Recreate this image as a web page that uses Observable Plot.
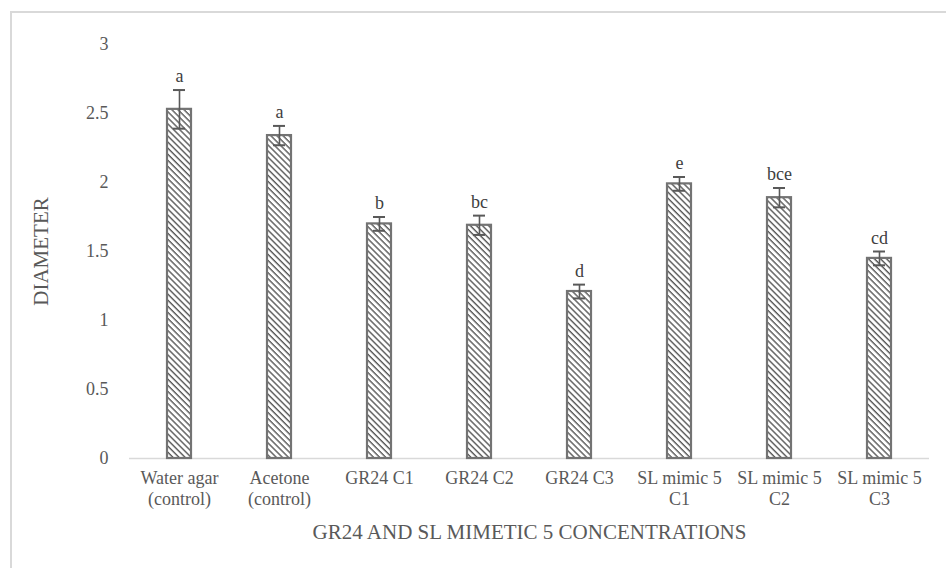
<!DOCTYPE html>
<html>
<head>
<meta charset="utf-8">
<script src="https://cdn.jsdelivr.net/npm/d3@7"></script>
<script src="https://cdn.jsdelivr.net/npm/@observablehq/plot@0.6"></script>
<style>
  html, body { margin: 0; padding: 0; background: #fff; overflow: hidden; }
  #wrap { position: relative; width: 946px; height: 568px; }
  #frame { position: absolute; left: 10px; top: 11px; width: 1000px; height: 1000px; border: 2px solid #d9d9d9; box-sizing: border-box; pointer-events: none; }
  #chart { position: absolute; left: 0; top: 0; }
  #chart svg, #chart svg text { font-family: 'Liberation Serif', 'Times New Roman', serif !important; }
</style>
</head>
<body>
<div id="wrap">
  <div id="frame"></div>
  <div id="chart"></div>
</div>
<script>
const categories = [
  "Water agar\n(control)", "Acetone\n(control)", "GR24 C1", "GR24 C2",
  "GR24 C3", "SL mimic 5\nC1", "SL mimic 5\nC2", "SL mimic 5\nC3"
];
const values = [2.53, 2.34, 1.70, 1.69, 1.21, 1.99, 1.89, 1.45];
const errors = [0.14, 0.07, 0.05, 0.07, 0.05, 0.05, 0.07, 0.05];
const letters = ["a", "a", "b", "bc", "d", "e", "bce", "cd"];
const yTicks = [0, 0.5, 1, 1.5, 2, 2.5, 3];
const xTitle = "GR24 AND SL MIMETIC 5 CONCENTRATIONS";
const yTitle = "DIAMETER";

const data = categories.map((c, i) => ({
  cat: c, v: values[i], lo: values[i] - errors[i], hi: values[i] + errors[i], letter: letters[i]
}));

const font = "'Liberation Serif', 'Times New Roman', serif";
const txt = "#595959";

const plot = Plot.plot({
  width: 946,
  height: 568,
  marginLeft: 129,
  marginRight: 17,
  marginTop: 44,
  marginBottom: 110,
  style: { fontFamily: font, background: "transparent", color: txt },
  x: { domain: categories, padding: 0, label: null },
  y: { domain: [0, 3], label: null },
  marks: [
    Plot.ruleY([0], { stroke: "#d9d9d9", strokeWidth: 1.5 }),
    Plot.barY(data, {
      x: "cat", y: "v", insetLeft: 38, insetRight: 38,
      fill: "url(#hatch)", stroke: "#737373", strokeWidth: 2.2
    }),
    Plot.ruleX(data, { x: "cat", y1: "lo", y2: "hi", stroke: "#595959", strokeWidth: 1.6 }),
    Plot.tickY(data, { x: "cat", y: "hi", insetLeft: 44, insetRight: 44, stroke: "#595959", strokeWidth: 2 }),
    Plot.tickY(data, { x: "cat", y: "lo", insetLeft: 44, insetRight: 44, stroke: "#595959", strokeWidth: 2 }),
    Plot.text(data, {
      x: "cat", y: "hi", text: "letter", lineAnchor: "bottom", dy: -8,
      fontSize: 18, fill: "#404040", fontFamily: font
    }),
    Plot.axisY({
      ticks: yTicks, tickSize: 0, tickPadding: 21, label: null,
      fontSize: 18, fill: txt, fontFamily: font, tickFormat: d => String(d)
    }),
    Plot.axisX({
      tickSize: 0, tickPadding: 10, label: null, lineHeight: 1.2,
      fontSize: 18, fill: txt, fontFamily: font
    }),
    Plot.text([xTitle], {
      frameAnchor: "bottom", dy: 74, text: d => d, fontSize: 21,
      fill: txt, fontFamily: font, lineAnchor: "middle", textAnchor: "middle"
    }),
    Plot.text([yTitle], {
      frameAnchor: "left", dx: -88, rotate: -90, text: d => d, fontSize: 21,
      fill: txt, fontFamily: font, lineAnchor: "middle", textAnchor: "middle"
    })
  ]
});

const svg = d3.select(plot);
const defs = svg.insert("defs", ":first-child");
const pat = defs.append("pattern")
  .attr("id", "hatch")
  .attr("patternUnits", "userSpaceOnUse")
  .attr("width", 4.3).attr("height", 4.3)
  .attr("patternTransform", "rotate(-45)");
pat.append("rect").attr("width", 4.3).attr("height", 4.3).attr("fill", "#fff");
pat.append("line")
  .attr("x1", 1).attr("y1", 0).attr("x2", 1).attr("y2", 4.3)
  .attr("stroke", "#4a4a4a").attr("stroke-width", 1.3);

document.getElementById("chart").appendChild(plot);
</script>
</body>
</html>
